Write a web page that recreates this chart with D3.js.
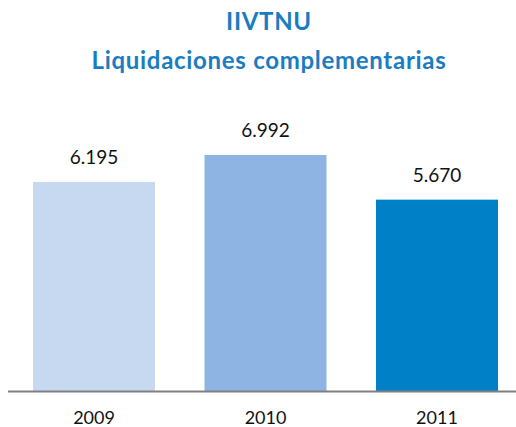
<!DOCTYPE html>
<html>
<head>
<meta charset="utf-8">
<script src="https://cdn.jsdelivr.net/npm/d3@7"></script>
<style>
  html, body { margin: 0; padding: 0; background: #fff; }
  svg { display: block; }
</style>
</head>
<body>
<svg id="chart" width="516" height="427"></svg>
<script>
// IIVTNU – liquidaciones complementarias por año
const years = ["2009", "2010", "2011"];
const values = [6.195, 6.992, 5.670];
const valueLabels = ["6.195", "6.992", "5.670"];
const barColors = ["#c6d9f0", "#8eb4e3", "#0080c6"];
const titleLines = ["IIVTNU", "Liquidaciones complementarias"];

const width = 516, height = 427;
const baseline = 391;
const svg = d3.select("#chart");
const font = "Lato, 'Open Sans', sans-serif";

const x = d3.scaleBand()
  .domain(years)
  .range([33, 498])
  .paddingInner(0.2886)
  .paddingOuter(0);

const y = d3.scaleLinear()
  .domain([0, 7])
  .range([baseline, baseline - 7 * 33.75]);

// Title
svg.selectAll("text.title")
  .data(titleLines)
  .join("text")
  .attr("class", "title")
  .attr("x", 269)
  .attr("y", (d, i) => i === 0 ? 30 : 69)
  .attr("text-anchor", "middle")
  .attr("font-family", font)
  .attr("font-weight", 700)
  .attr("font-size", "24px")
  .attr("letter-spacing", "0.7px")
  .attr("fill", "#1a7dc1")
  .text(d => d);

// Bars
const data = years.map((yr, i) => ({ year: yr, value: values[i], label: valueLabels[i], color: barColors[i] }));

svg.selectAll("rect.bar")
  .data(data)
  .join("rect")
  .attr("class", "bar")
  .attr("x", d => x(d.year))
  .attr("width", x.bandwidth())
  .attr("y", d => y(d.value))
  .attr("height", d => y(0) - y(d.value))
  .attr("fill", d => d.color);

// Value labels
svg.selectAll("text.value")
  .data(data)
  .join("text")
  .attr("class", "value")
  .attr("x", d => x(d.year) + x.bandwidth() / 2)
  .attr("y", d => y(d.value) - 18)
  .attr("text-anchor", "middle")
  .attr("font-family", font)
  .attr("font-size", "19px")
  .attr("fill", "#111")
  .text(d => d.label);

// Baseline axis
const axis = svg.append("g")
  .attr("transform", `translate(0,${baseline})`)
  .call(d3.axisBottom(x).tickSize(0).tickPadding(20));
axis.select(".domain")
  .attr("d", `M8,0.5H516`)
  .attr("stroke", "#808080")
  .attr("stroke-width", 2);
axis.selectAll(".tick text")
  .attr("font-family", font)
  .attr("font-size", "18px")
  .attr("fill", "#111");
</script>
</body>
</html>
